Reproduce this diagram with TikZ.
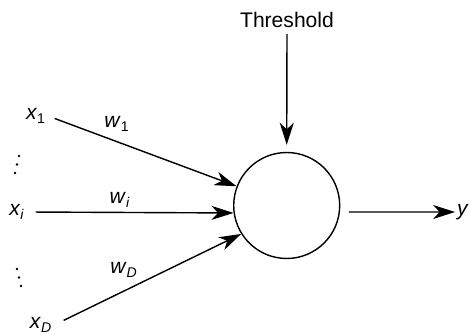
\documentclass[tikz,border=0pt]{standalone}
\usepackage{fontspec}
\setmainfont{Liberation Sans}
\usetikzlibrary{arrows.meta, calc}

\begin{document}
\begin{tikzpicture}[x=0.02cm, y=-0.02cm,
    every node/.style={font=\fontsize{12}{14}\selectfont},
    sig/.style={line width=0.8pt, -{Stealth[length=0.44cm, width=0.28cm, inset=0.13cm]}},
    lbl/.style={inner sep=1pt}]
  \useasboundingbox (0,0) rectangle (471,334);

  % Neuron body
  \node[draw, circle, line width=0.8pt, minimum size=2.12cm, inner sep=0pt] (neuron) at (286.7,205.5) {};

  % Threshold input from the top
  \node (th) at (287,20) {Threshold};
  \draw[sig, shorten >=4pt] (th.south) -- (neuron.north);

  % Inputs
  \node[lbl] (x1) at (36,116) {\textit{x}\textsubscript{1}};
  \node[lbl] (xi) at (17,212) {\textit{x}\textsubscript{\textit{i}}};
  \node[lbl] (xD) at (41,325) {\textit{x}\textsubscript{\textit{D}}};
  \draw[sig, shorten <=4pt] (x1.east) -- (neuron.159);
  \draw[sig, shorten <=5pt] (xi.east) -- (neuron.188);
  \draw[sig, shorten <=6pt] (xD.east) -- (neuron.212);

  % Weights
  \node[lbl] (w1) at (117,124) {\textit{w}\textsubscript{1}};
  \node[lbl] (wi) at (120,200) {\textit{w}\textsubscript{\textit{i}}};
  \node[lbl] (wD) at (124,270) {\textit{w}\textsubscript{\textit{D}}};

  % Dots between the inputs
  \foreach \t in {0,0.5,1} {
    \fill ($(19,156)!\t!(15,173)$) circle (1.3);
    \fill ($(17,269)!\t!(21,286)$) circle (1.3);
  }

  % Output
  \node[lbl] (y) at (463,212) {\textit{y}};
  \draw[sig, shorten <=5pt] (neuron.-7) -- (y.west);
\end{tikzpicture}
\end{document}
